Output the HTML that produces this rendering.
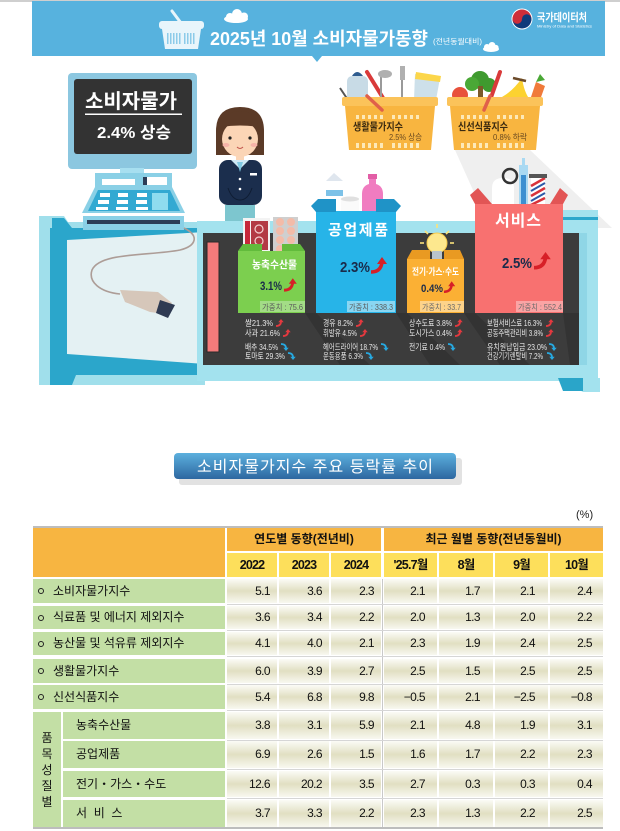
<!DOCTYPE html>
<html><head><meta charset="utf-8">
<style>
html,body{margin:0;padding:0;background:#fff;}
body{width:620px;height:831px;position:relative;overflow:hidden;font-family:"Liberation Sans","Noto Sans CJK KR",sans-serif;}
.a{position:absolute;box-sizing:border-box;}
.row{position:absolute;left:0;width:620px;}
.d{position:absolute;box-sizing:border-box;top:0;height:100%;text-align:right;font-size:12px;letter-spacing:-0.6px;color:#111;background:linear-gradient(#fbfbf6,#e1dfc2 50%,#f8f8f0);}
.c1{left:227px;width:50px;padding-right:7px}
.c2{left:279px;width:50px;padding-right:7px}
.c3{left:331px;width:50px;padding-right:7px}
.c4{left:384px;width:53px;padding-right:12px}
.c5{left:439px;width:54px;padding-right:13px}
.c6{left:495px;width:53px;padding-right:13px}
.c7{left:550px;width:53px;padding-right:11px}
.lab{position:absolute;box-sizing:border-box;top:0;height:100%;left:33px;width:192px;background:#c3dfa5;font-size:12px;color:#111;padding-left:20px;white-space:pre;}
.sub{position:absolute;box-sizing:border-box;top:0;height:100%;left:63px;width:162px;background:#c3dfa5;font-size:12px;color:#111;padding-left:13px;white-space:pre;}
.dot{position:absolute;left:5px;top:50%;margin-top:-3px;width:6px;height:6px;border:1px solid #222;border-radius:50%;box-sizing:border-box;}
.ln{position:absolute;left:227px;width:376px;height:1px;background:#d6d6d6;}
.hd{position:absolute;background:#f7b541;font-size:12px;font-weight:bold;text-align:center;color:#111;}
.yr{position:absolute;top:553px;height:24px;line-height:24px;background:#fddf5b;font-size:12.5px;font-weight:bold;text-align:center;letter-spacing:-0.8px;color:#111;}
</style></head>
<body>
<svg class="a" style="left:0;top:0;font-family:'Liberation Sans','Noto Sans CJK KR',sans-serif" width="620" height="400" viewBox="0 0 620 400">
<defs>
<g id="ua"><path d="M0,7 Q5,7 5,2.5" stroke="#e3393f" stroke-width="1.8" fill="none"/><polygon points="2.3,3.2 5,0 7.7,3.2" fill="#e3393f"/></g>
<g id="da"><path d="M0,1 Q5,1 5,5.5" stroke="#27a9e1" stroke-width="1.8" fill="none"/><polygon points="2.3,4.8 5,8 7.7,4.8" fill="#27a9e1"/></g>
<g id="bu"><path d="M0,14 Q10,14 11,4" stroke="#d71f27" stroke-width="3.5" fill="none"/><polygon points="6,6 11,-1 16,6" fill="#d71f27"/></g>
</defs>
<rect x="0" y="0" width="620" height="2" fill="#cfcfcf"/>
<rect x="32" y="1" width="573" height="55" fill="#57b2de"/>
<polygon points="312,56 322,56 317,62" fill="#57b2de"/>
<line x1="172" y1="11" x2="184" y2="27" stroke="#e8f5fb" stroke-width="3" stroke-linecap="round"/>
<rect x="159" y="21" width="45" height="8" rx="3" fill="#e8f5fb"/>
<polygon points="162,29 201,29 198,49 165,49" fill="#e8f5fb"/>
<g fill="#8ccbe9"><rect x="167" y="33" width="1.5" height="11"/><rect x="170" y="33" width="1.5" height="11"/><rect x="173" y="33" width="1.5" height="11"/><rect x="176" y="33" width="1.5" height="11"/><rect x="179" y="33" width="1.5" height="11"/><rect x="184" y="33" width="1.5" height="11"/><rect x="187" y="33" width="1.5" height="11"/><rect x="190" y="33" width="1.5" height="11"/><rect x="193" y="33" width="1.5" height="11"/></g>
<g fill="#fff"><ellipse cx="236" cy="19" rx="12" ry="4"/><circle cx="230" cy="17" r="4"/><circle cx="237" cy="14" r="5"/><circle cx="244" cy="16.5" r="4"/></g>
<g fill="#fff"><ellipse cx="491" cy="49" rx="8" ry="3"/><circle cx="487" cy="47" r="3"/><circle cx="492" cy="45.5" r="3.5"/><circle cx="496" cy="47.5" r="2.6"/></g>
<text x="210" y="45" font-size="18" font-weight="bold" fill="#fff" textLength="218" lengthAdjust="spacingAndGlyphs">2025년 10월 소비자물가동향</text>
<text x="433" y="44" font-size="7.5" fill="#fff" textLength="49" lengthAdjust="spacingAndGlyphs">(전년동월대비)</text>
<circle cx="522" cy="19" r="10.5" fill="#fff"/>
<path d="M512.5,19 A9.5,9.5 0 0 1 531.5,19 Z" fill="#cd2e3a"/>
<path d="M512.5,19 A9.5,9.5 0 0 0 531.5,19 Z" fill="#0f3b7a"/>
<circle cx="517.25" cy="19" r="4.75" fill="#cd2e3a"/>
<circle cx="526.75" cy="19" r="4.75" fill="#0f3b7a"/>
<text x="537" y="21" font-size="11" font-weight="bold" fill="#fff" textLength="50" lengthAdjust="spacingAndGlyphs">국가데이터처</text>
<text x="537" y="27.5" font-size="3.6" fill="#fff" textLength="55" lengthAdjust="spacingAndGlyphs">Ministry of Data and Statistics</text>

<rect x="68" y="73" width="129" height="96" rx="4" fill="#8cc7e0"/>
<rect x="74" y="79" width="118" height="75" rx="3" fill="#333333"/>
<text x="131" y="108" font-size="20" font-weight="bold" fill="#fff" text-anchor="middle" textLength="92" lengthAdjust="spacingAndGlyphs">소비자물가</text>
<rect x="85" y="113.5" width="97" height="1.5" fill="#fff"/>
<text x="134" y="138" font-size="16" font-weight="bold" fill="#fff" text-anchor="middle" textLength="74" lengthAdjust="spacingAndGlyphs">2.4% 상승</text>
<rect x="120" y="168" width="24" height="6" fill="#a7dff0"/>
<rect x="95" y="173" width="77" height="14" fill="#8ad0e6"/>
<rect x="102" y="179" width="33" height="6" fill="#fff"/>
<rect x="143" y="177" width="4" height="8" fill="#2c3d57"/>
<rect x="147" y="177" width="20" height="8" fill="#fff"/>
<polygon points="95,187 172,187 185,213 82,213" fill="#8ad0e6"/>
<polygon points="98,190 170,190 180,211 88,211" fill="#33a9d2"/>
<g fill="#fff"><rect x="100" y="193" width="10" height="4"/><rect x="118" y="193" width="10" height="4"/><rect x="137" y="193" width="10" height="4"/><rect x="98" y="200" width="11" height="4"/><rect x="117" y="200" width="11" height="4"/><rect x="136" y="200" width="11" height="4"/><rect x="96" y="207" width="12" height="3"/><rect x="116" y="207" width="12" height="3"/><rect x="136" y="207" width="12" height="3"/></g>
<rect x="152" y="193" width="16" height="17" fill="#8fdcef"/>

<path d="M216,155 L216,131 Q216,107 240,107 Q264,107 264,131 L264,155 Z" fill="#5b3a27"/>
<ellipse cx="240" cy="139" rx="18" ry="18" fill="#fbd5b6"/>
<path d="M221,132 Q222,111 240,111 Q258,111 259,132 L259,127 Q240,124 221,127 Z" fill="#5b3a27"/>
<circle cx="230" cy="138" r="1.6" fill="#222"/><circle cx="250" cy="138" r="1.6" fill="#222"/>
<ellipse cx="226" cy="145" rx="3.5" ry="2" fill="#f6b3a8"/><ellipse cx="254" cy="145" rx="3.5" ry="2" fill="#f6b3a8"/>
<path d="M237,147 Q240,150 243,147" stroke="#c0524a" stroke-width="1" fill="none"/>
<rect x="236" y="155" width="8" height="6" fill="#fbd5b6"/>
<rect x="219" y="160" width="43" height="45" rx="9" fill="#1b2e4d"/>
<polygon points="231,160 240,169 249,160" fill="#cfe9f5"/>
<polygon points="237,162 243,162 240,172" fill="#7fc9e3"/>
<rect x="250" y="173" width="7" height="2.5" fill="#fff"/>
<circle cx="240" cy="179" r="1.3" fill="#fff"/><circle cx="240" cy="189" r="1.3" fill="#fff"/>
<path d="M228,188 Q232,200 240,200 Q248,200 252,188" stroke="#0f1d33" stroke-width="1" fill="none"/>
<rect x="225" y="205" width="30" height="17" fill="#7dc6cf"/>

<rect x="39" y="222" width="166" height="163" fill="#a0dfeb"/>
<polygon points="39,216 64,216 72,228 39,228" fill="#a0dfeb"/>
<polygon points="52,218 64,218 72,228 52,228" fill="#2ba6cb"/>
<rect x="50" y="228" width="155" height="147" fill="#2ba6cb"/>
<polygon points="67,240 205,232 205,364 67,354" fill="#e4f1f3"/>
<polygon points="50,375 76,375 72,385 50,385" fill="#2ba6cb"/>
<rect x="83" y="216" width="101" height="14" fill="#8ad0e6"/>
<rect x="87" y="220" width="93" height="4" fill="#2c3d57"/>
<path d="M184,228 C200,236 196,246 180,250 C150,256 100,252 92,270 C88,282 100,292 120,294" stroke="#ad9d97" stroke-width="1.6" fill="none"/>
<path d="M120,290 L158,292 L172,303 L165,314 L150,312 L125,302 Z" fill="#d6c7ba"/>
<polygon points="160,300 175,305 168,318 156,313" fill="#2e3a52"/>

<polygon points="455,150 530,150 612,228 490,228" fill="#efefef"/>
<rect x="197" y="221" width="401" height="160" fill="#a3e2ee"/>
<rect x="563" y="210" width="35" height="12" fill="#a3e2ee"/>
<rect x="563" y="217" width="35" height="3" fill="#2ca7cc"/>
<rect x="203" y="233" width="376" height="132" fill="#3c3c3c"/>
<rect x="579" y="233" width="8" height="132" fill="#8fd6e6"/>
<polygon points="558,378 600,378 600,392 583,392" fill="#a3e2ee"/>
<polygon points="558,378 583,378 583,391 563,391" fill="#2aa5c9"/>
<g fill="#333333">
<polygon points="305,313 316,313 370,365 340,365"/>
<polygon points="396,313 407,313 460,365 430,365"/>
<polygon points="464,313 475,313 530,365 500,365"/>
<polygon points="563,313 579,313 579,365 570,365"/>
</g>
<rect x="207" y="242" width="12" height="110" fill="#f47b7b" stroke="#2a2a2a" stroke-width="1"/>

<rect x="243" y="218" width="27" height="34" fill="#f3f3f3"/>
<rect x="245" y="221" width="5" height="29" fill="#c6283a"/>
<rect x="251" y="221" width="17" height="29" fill="#b33a44"/>
<g fill="none" stroke="#f3d0d0" stroke-width="1.2"><circle cx="259" cy="229" r="4"/><circle cx="259" cy="241" r="4"/></g>
<rect x="273" y="217" width="25" height="35" fill="#cfcfcf"/>
<g fill="#f3bba8"><circle cx="280" cy="222" r="4"/><circle cx="291" cy="222" r="4"/><circle cx="280" cy="231" r="4"/><circle cx="291" cy="231" r="4"/><circle cx="280" cy="240" r="4"/><circle cx="291" cy="240" r="4"/><circle cx="280" cy="249" r="4"/><circle cx="291" cy="249" r="4"/></g>
<rect x="238" y="251" width="67" height="62" fill="#7ccf4f"/>
<polygon points="238,251 243,244 262,244 262,251" fill="#62bb3c"/>
<polygon points="282,251 282,244 300,244 305,251" fill="#62bb3c"/>
<text x="274.5" y="268" font-size="10.5" font-weight="bold" fill="#fff" text-anchor="middle" textLength="45" lengthAdjust="spacingAndGlyphs">농축수산물</text>
<text x="260" y="290" font-size="12" font-weight="bold" fill="#1a2b4a" textLength="22" lengthAdjust="spacingAndGlyphs">3.1%</text>
<use href="#bu" transform="translate(284,279) scale(0.8)"/>
<rect x="260" y="301" width="45" height="11" fill="#a3dd86"/>
<text x="262" y="310" font-size="8" fill="#5a5a5a" textLength="41" lengthAdjust="spacingAndGlyphs">가중치 : 75.6</text>

<rect x="326" y="181" width="17" height="28" fill="#fff"/>
<polygon points="326,181 334,173 343,181" fill="#dfe6ee"/>
<rect x="326" y="190" width="17" height="6" fill="#7dc2e8"/>
<rect x="341" y="199" width="18" height="13" fill="#fafafa"/>
<ellipse cx="350" cy="199" rx="9" ry="2.5" fill="#e0e0e0"/>
<path d="M362,212 L362,194 Q362,186 369,184 L369,177 L376,177 L376,184 Q383,186 383,194 L383,212 Z" fill="#f07cc0"/>
<rect x="368" y="174" width="9" height="5" fill="#e25ea6"/>
<rect x="316" y="211" width="80" height="102" fill="#27b4e8"/>
<polygon points="311,206 318,199 336,199 336,212 316,212" fill="#1f93c7"/>
<polygon points="376,199 394,199 401,206 396,212 376,212" fill="#1f93c7"/>
<text x="358" y="235" font-size="15" font-weight="bold" fill="#fff" text-anchor="middle" textLength="60" lengthAdjust="spacing">공업제품</text>
<text x="340" y="272" font-size="15" font-weight="bold" fill="#1a2b4a" textLength="30" lengthAdjust="spacingAndGlyphs">2.3%</text>
<use href="#bu" transform="translate(371,258)"/>
<rect x="347" y="301" width="48" height="11" fill="#8ad6f2"/>
<text x="349" y="310" font-size="8" fill="#5a5a5a" textLength="44" lengthAdjust="spacingAndGlyphs">가중치 : 338.3</text>

<g stroke="#fbe27a" stroke-width="1.6"><line x1="437" y1="224" x2="437" y2="228"/><line x1="425" y1="231" x2="428" y2="234"/><line x1="449" y1="231" x2="446" y2="234"/><line x1="420" y1="243" x2="424" y2="243"/><line x1="454" y1="243" x2="450" y2="243"/></g>
<circle cx="437" cy="243" r="10" fill="#fde88e" stroke="#f5c94a" stroke-width="1"/>
<rect x="432" y="251" width="10" height="8" fill="#b9c4cc"/>
<rect x="407" y="259" width="57" height="54" fill="#fbb034"/>
<polygon points="407,259 412,250 430,250 430,259" fill="#e99a22"/>
<polygon points="444,259 444,250 460,250 464,259" fill="#e99a22"/>
<text x="435.5" y="275" font-size="9.5" font-weight="bold" fill="#fff" text-anchor="middle" textLength="47" lengthAdjust="spacingAndGlyphs">전기·가스·수도</text>
<text x="421" y="292" font-size="11" font-weight="bold" fill="#1a2b4a" textLength="22" lengthAdjust="spacingAndGlyphs">0.4%</text>
<use href="#bu" transform="translate(444,282) scale(0.7)"/>
<rect x="420" y="301" width="44" height="11" fill="#fdd38a"/>
<text x="422" y="310" font-size="8" fill="#6a6a6a" textLength="39" lengthAdjust="spacingAndGlyphs">가중치 : 33.7</text>

<path d="M492,205 L492,188 Q492,178 503,178 Q514,178 514,188 L514,205 Z" fill="#fff"/>
<circle cx="510" cy="176" r="7" fill="none" stroke="#333" stroke-width="2.5"/>
<rect x="519" y="165" width="9" height="40" fill="#a9d9f2"/>
<rect x="521" y="175" width="5" height="30" fill="#3b8fd0"/>
<rect x="522" y="158" width="3" height="8" fill="#a9d9f2"/>
<rect x="531" y="177" width="14" height="28" fill="#fff"/>
<g stroke="#d8323a" stroke-width="2.5"><line x1="531" y1="186" x2="545" y2="178"/><line x1="531" y1="196" x2="545" y2="188"/><line x1="531" y1="205" x2="545" y2="198"/></g>
<g stroke="#2c5aa8" stroke-width="2"><line x1="531" y1="191" x2="545" y2="183"/><line x1="531" y1="201" x2="545" y2="193"/></g>
<rect x="529" y="174" width="18" height="4" fill="#555"/>
<rect x="475" y="204" width="88" height="109" fill="#f87170"/>
<polygon points="470,195 478,188 492,204 475,204" fill="#e25555"/>
<polygon points="550,204 560,188 568,195 563,204" fill="#e25555"/>
<text x="518" y="226" font-size="16" font-weight="bold" fill="#fff" text-anchor="middle" textLength="46" lengthAdjust="spacing">서비스</text>
<text x="502" y="268" font-size="15" font-weight="bold" fill="#1a2b4a" textLength="30" lengthAdjust="spacingAndGlyphs">2.5%</text>
<use href="#bu" transform="translate(534,253) scale(1.05)"/>
<rect x="516" y="301" width="47" height="11" fill="#fba4a4"/>
<text x="518" y="310" font-size="8" fill="#6a6a6a" textLength="44" lengthAdjust="spacingAndGlyphs">가중치 : 552.4</text>

<g font-size="8.5" fill="#e6e6e6">
<text x="245" y="326" textLength="28" lengthAdjust="spacingAndGlyphs">쌀21.3%</text>
<text x="245" y="336" textLength="35" lengthAdjust="spacingAndGlyphs">사과 21.6%</text>
<text x="245" y="350" textLength="33" lengthAdjust="spacingAndGlyphs">배추 34.5%</text>
<text x="245" y="359" textLength="40" lengthAdjust="spacingAndGlyphs">토마토 29.3%</text>
<text x="323" y="326" textLength="30" lengthAdjust="spacingAndGlyphs">경유 8.2%</text>
<text x="323" y="336" textLength="34" lengthAdjust="spacingAndGlyphs">휘발유 4.5%</text>
<text x="323" y="350" textLength="55" lengthAdjust="spacingAndGlyphs">헤어드라이어 18.7%</text>
<text x="323" y="359" textLength="40" lengthAdjust="spacingAndGlyphs">운동용품 6.3%</text>
<text x="409" y="326" textLength="43" lengthAdjust="spacingAndGlyphs">상수도료 3.8%</text>
<text x="409" y="336" textLength="43" lengthAdjust="spacingAndGlyphs">도시가스 0.4%</text>
<text x="409" y="350" textLength="36" lengthAdjust="spacingAndGlyphs">전기료 0.4%</text>
<text x="487" y="326" textLength="55" lengthAdjust="spacingAndGlyphs">보험서비스료 16.3%</text>
<text x="487" y="336" textLength="56" lengthAdjust="spacingAndGlyphs">공동주택관리비 3.8%</text>
<text x="487" y="350" textLength="60" lengthAdjust="spacingAndGlyphs">유치원납입금 23.0%</text>
<text x="487" y="359" textLength="56" lengthAdjust="spacingAndGlyphs">건강기기렌탈비 7.2%</text>
</g>
<use href="#ua" transform="translate(276,319)"/>
<use href="#ua" transform="translate(283,329)"/>
<use href="#da" transform="translate(281,343)"/>
<use href="#da" transform="translate(288,352)"/>
<use href="#ua" transform="translate(356,319)"/>
<use href="#ua" transform="translate(360,329)"/>
<use href="#da" transform="translate(381,343)"/>
<use href="#da" transform="translate(366,352)"/>
<use href="#ua" transform="translate(455,319)"/>
<use href="#ua" transform="translate(455,329)"/>
<use href="#da" transform="translate(448,343)"/>
<use href="#ua" transform="translate(546,319)"/>
<use href="#ua" transform="translate(546,329)"/>
<use href="#da" transform="translate(549,343)"/>
<use href="#da" transform="translate(547,352)"/>

<path d="M347,100 L347,82 Q347,76 353,76 L362,76 Q368,76 368,82 L368,100 Z" fill="#c8dbe6"/>
<path d="M352,76 Q357,68 363,76 Z" fill="#2f5c8f"/>
<line x1="340" y1="88" x2="348" y2="100" stroke="#555" stroke-width="2"/>
<line x1="367" y1="72" x2="388" y2="106" stroke="#d93a3a" stroke-width="4" stroke-linecap="round"/>
<line x1="381" y1="74" x2="381" y2="100" stroke="#9a9a9a" stroke-width="2"/>
<ellipse cx="385" cy="74" rx="7" ry="4" fill="#b0b0b0"/>
<rect x="400" y="66" width="5" height="14" fill="#b0b0b0"/>
<line x1="402" y1="80" x2="402" y2="100" stroke="#777" stroke-width="1.5"/>
<polygon points="415,74 440,78 436,100 414,100" fill="#cde0ea"/>
<polygon points="416,72 441,76 440,82 415,79" fill="#fcd64a"/>
<circle cx="460" cy="95" r="8" fill="#e8513b"/>
<circle cx="480" cy="80" r="9" fill="#3f9a2f"/><circle cx="472" cy="84" r="7" fill="#4aa836"/><circle cx="489" cy="85" r="7" fill="#3f9a2f"/>
<rect x="478" y="86" width="5" height="14" fill="#7c5a2a"/>
<line x1="500" y1="72" x2="488" y2="106" stroke="#d93a3a" stroke-width="4" stroke-linecap="round"/>
<path d="M495,100 Q510,95 522,78 Q524,92 530,100 Z" fill="#fcd230"/>
<polygon points="530,100 536,82 545,86 540,100" fill="#f07a3a"/>
<polygon points="536,82 540,74 545,80" fill="#4aa836"/>
<line x1="513" y1="78" x2="526" y2="81" stroke="#6b4a2a" stroke-width="2.5"/>
<rect x="342" y="97" width="96" height="9" rx="2" fill="#fbc35a"/>
<polygon points="345,106 435,106 431,150 349,150" fill="#f8b540"/>
<rect x="447" y="97" width="96" height="9" rx="2" fill="#fbc35a"/>
<polygon points="450,106 540,106 536,150 454,150" fill="#f8b540"/>
<g fill="#fde9b8">
<rect x="356" y="115" width="3" height="4"/><rect x="362" y="115" width="3" height="4"/><rect x="368" y="115" width="3" height="4"/><rect x="374" y="115" width="3" height="4"/><rect x="380" y="115" width="3" height="4"/><rect x="392" y="115" width="3" height="4"/><rect x="398" y="115" width="3" height="4"/><rect x="404" y="115" width="3" height="4"/><rect x="410" y="115" width="3" height="4"/><rect x="416" y="115" width="3" height="4"/>
<rect x="356" y="143" width="3" height="5"/><rect x="362" y="143" width="3" height="5"/><rect x="368" y="143" width="3" height="5"/><rect x="374" y="143" width="3" height="5"/><rect x="380" y="143" width="3" height="5"/><rect x="392" y="143" width="3" height="5"/><rect x="398" y="143" width="3" height="5"/><rect x="404" y="143" width="3" height="5"/><rect x="410" y="143" width="3" height="5"/><rect x="416" y="143" width="3" height="5"/>
<rect x="461" y="115" width="3" height="4"/><rect x="467" y="115" width="3" height="4"/><rect x="473" y="115" width="3" height="4"/><rect x="479" y="115" width="3" height="4"/><rect x="485" y="115" width="3" height="4"/><rect x="497" y="115" width="3" height="4"/><rect x="503" y="115" width="3" height="4"/><rect x="509" y="115" width="3" height="4"/><rect x="515" y="115" width="3" height="4"/><rect x="521" y="115" width="3" height="4"/>
<rect x="461" y="143" width="3" height="5"/><rect x="467" y="143" width="3" height="5"/><rect x="473" y="143" width="3" height="5"/><rect x="479" y="143" width="3" height="5"/><rect x="485" y="143" width="3" height="5"/><rect x="497" y="143" width="3" height="5"/><rect x="503" y="143" width="3" height="5"/><rect x="509" y="143" width="3" height="5"/><rect x="515" y="143" width="3" height="5"/><rect x="521" y="143" width="3" height="5"/>
</g>
<line x1="367" y1="96" x2="382" y2="110" stroke="#e0604a" stroke-width="3.5" stroke-linecap="round"/>
<line x1="490" y1="96" x2="484" y2="110" stroke="#e0604a" stroke-width="3.5" stroke-linecap="round"/>
<text x="353" y="130" font-size="10.5" font-weight="bold" fill="#3b2a10" textLength="50" lengthAdjust="spacingAndGlyphs">생활물가지수</text>
<text x="389" y="140" font-size="8.5" fill="#6a4a20" textLength="33" lengthAdjust="spacingAndGlyphs">2.5% 상승</text>
<text x="458" y="130" font-size="10.5" font-weight="bold" fill="#3b2a10" textLength="50" lengthAdjust="spacingAndGlyphs">신선식품지수</text>
<text x="493" y="140" font-size="8.5" fill="#6a4a20" textLength="34" lengthAdjust="spacingAndGlyphs">0.8% 하락</text>
</svg>

<svg class="a" style="left:0;top:440px;font-family:'Liberation Sans','Noto Sans CJK KR',sans-serif" width="620" height="60" viewBox="0 440 620 60">
<defs><linearGradient id="tb2" x1="0" y1="0" x2="0" y2="1"><stop offset="0" stop-color="#5cb0de"/><stop offset="1" stop-color="#2d67a0"/></linearGradient></defs>
<rect x="179" y="458" width="283" height="27" rx="3" fill="#e2e2e2"/>
<rect x="174" y="453" width="282" height="26" rx="4" fill="url(#tb2)"/>
<text x="315" y="472" font-size="16" fill="#fff" text-anchor="middle" textLength="236" lengthAdjust="spacing">소비자물가지수 주요 등락률 추이</text>
</svg>

<div class="a" style="left:576px;top:509px;font-size:11px;color:#222;">(%)</div>

<div class="a" style="left:33px;top:526px;width:570px;height:2px;background:#bdbdbd"></div>
<div class="hd" style="left:33px;top:528px;width:192px;height:49px"></div>
<div class="hd" style="left:227px;top:528px;width:154px;height:23px;line-height:23px">연도별 동향(전년비)</div>
<div class="hd" style="left:384px;top:528px;width:219px;height:23px;line-height:23px">최근 월별 동향(전년동월비)</div>
<div class="yr" style="left:227px;width:50px">2022</div>
<div class="yr" style="left:279px;width:50px">2023</div>
<div class="yr" style="left:331px;width:50px">2024</div>
<div class="yr" style="left:384px;width:53px">'25.7월</div>
<div class="yr" style="left:439px;width:54px">8월</div>
<div class="yr" style="left:495px;width:53px">9월</div>
<div class="yr" style="left:550px;width:53px">10월</div>

<div class="a" style="left:382px;top:579px;width:1px;height:249px;background:#c9c9c9"></div>

<div class="row" style="top:579px;height:24px;line-height:24px">
<div class="lab"><span class="dot"></span>소비자물가지수</div>
<div class="d c1">5.1</div><div class="d c2">3.6</div><div class="d c3">2.3</div><div class="d c4">2.1</div><div class="d c5">1.7</div><div class="d c6">2.1</div><div class="d c7">2.4</div>
<div class="ln" style="top:25px"></div></div>

<div class="row" style="top:606px;height:23px;line-height:23px">
<div class="lab"><span class="dot"></span>식료품 및 에너지 제외지수</div>
<div class="d c1">3.6</div><div class="d c2">3.4</div><div class="d c3">2.2</div><div class="d c4">2.0</div><div class="d c5">1.3</div><div class="d c6">2.0</div><div class="d c7">2.2</div>
<div class="ln" style="top:24px"></div></div>

<div class="row" style="top:632px;height:23px;line-height:23px">
<div class="lab"><span class="dot"></span>농산물 및 석유류 제외지수</div>
<div class="d c1">4.1</div><div class="d c2">4.0</div><div class="d c3">2.1</div><div class="d c4">2.3</div><div class="d c5">1.9</div><div class="d c6">2.4</div><div class="d c7">2.5</div>
<div class="ln" style="top:24px"></div></div>

<div class="row" style="top:659px;height:24px;line-height:24px">
<div class="lab"><span class="dot"></span>생활물가지수</div>
<div class="d c1">6.0</div><div class="d c2">3.9</div><div class="d c3">2.7</div><div class="d c4">2.5</div><div class="d c5">1.5</div><div class="d c6">2.5</div><div class="d c7">2.5</div>
<div class="ln" style="top:25px"></div></div>

<div class="row" style="top:685px;height:24px;line-height:24px">
<div class="lab"><span class="dot"></span>신선식품지수</div>
<div class="d c1">5.4</div><div class="d c2">6.8</div><div class="d c3">9.8</div><div class="d c4">−0.5</div><div class="d c5">2.1</div><div class="d c6">−2.5</div><div class="d c7">−0.8</div>
<div class="ln" style="top:25px"></div></div>

<div class="a" style="left:33px;top:712px;width:28px;height:115px;background:#c3dfa5;display:flex;align-items:center;justify-content:center;font-size:12px;line-height:16px;text-align:center;color:#111">품<br>목<br>성<br>질<br>별</div>

<div class="row" style="top:712px;height:27px;line-height:27px">
<div class="sub">농축수산물</div>
<div class="d c1">3.8</div><div class="d c2">3.1</div><div class="d c3">5.9</div><div class="d c4">2.1</div><div class="d c5">4.8</div><div class="d c6">1.9</div><div class="d c7">3.1</div>
<div class="ln" style="top:28px"></div></div>

<div class="row" style="top:741px;height:27px;line-height:27px">
<div class="sub">공업제품</div>
<div class="d c1">6.9</div><div class="d c2">2.6</div><div class="d c3">1.5</div><div class="d c4">1.6</div><div class="d c5">1.7</div><div class="d c6">2.2</div><div class="d c7">2.3</div>
<div class="ln" style="top:28px"></div></div>

<div class="row" style="top:771px;height:26px;line-height:26px">
<div class="sub">전기・가스・수도</div>
<div class="d c1">12.6</div><div class="d c2">20.2</div><div class="d c3">3.5</div><div class="d c4">2.7</div><div class="d c5">0.3</div><div class="d c6">0.3</div><div class="d c7">0.4</div>
<div class="ln" style="top:27px"></div></div>

<div class="row" style="top:800px;height:27px;line-height:27px">
<div class="sub">서  비  스</div>
<div class="d c1">3.7</div><div class="d c2">3.3</div><div class="d c3">2.2</div><div class="d c4">2.3</div><div class="d c5">1.3</div><div class="d c6">2.2</div><div class="d c7">2.5</div>
</div>
<div class="a" style="left:33px;top:827px;width:570px;height:2px;background:#bdbdbd"></div>
</body></html>
